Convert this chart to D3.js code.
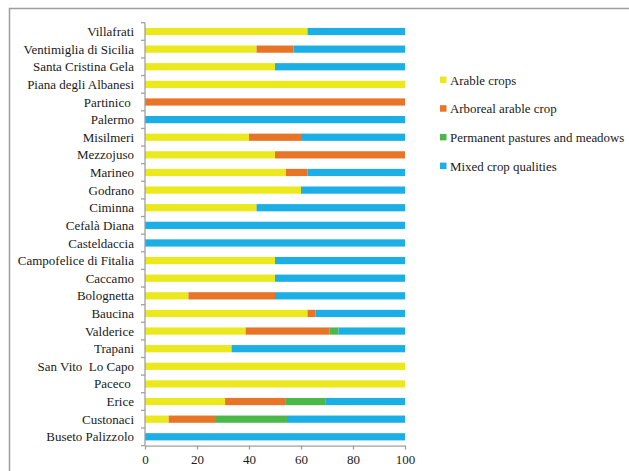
<!DOCTYPE html>
<html>
<head>
<meta charset="utf-8">
<script src="https://cdn.jsdelivr.net/npm/d3@7"></script>
<style>
  body { margin: 0; background: #fff; }
  svg { display: block; }
  text { font-family: "Liberation Serif", "Times New Roman", serif; fill: #1a1a1a; }
</style>
</head>
<body>
<svg id="chart" width="629" height="471"></svg>
<script>
// Municipalities, top to bottom
const municipalities = [
  "Villafrati", "Ventimiglia di Sicilia", "Santa Cristina Gela", "Piana degli Albanesi",
  "Partinico ", "Palermo", "Misilmeri", "Mezzojuso", "Marineo", "Godrano", "Ciminna",
  "Cefalà Diana", "Casteldaccia", "Campofelice di Fitalia", "Caccamo", "Bolognetta",
  "Baucina", "Valderice", "Trapani", "San Vito  Lo Capo", "Paceco ", "Erice",
  "Custonaci", "Buseto Palizzolo"
];

// Share (%) of each crop class per municipality
const arable =    [62.5, 42.9, 50, 100, 0, 0, 40, 50, 54.2, 60, 42.9, 0, 0, 50, 50, 16.7, 62.5, 38.7, 33.3, 100, 100, 30.8, 9.1, 0];
const arboreal =  [0, 14.2, 0, 0, 100, 0, 20, 50, 8.3, 0, 0, 0, 0, 0, 0, 33.3, 3.1, 32.2, 0, 0, 0, 23.1, 18.2, 0];
const pastures =  [0, 0, 0, 0, 0, 0, 0, 0, 0, 0, 0, 0, 0, 0, 0, 0, 0, 3.5, 0, 0, 0, 15.4, 27.3, 0];
const mixed =     [37.5, 42.9, 50, 0, 0, 100, 40, 0, 37.5, 40, 57.1, 100, 100, 50, 50, 50, 34.4, 25.6, 66.7, 0, 0, 30.7, 45.4, 100];

const seriesNames = ["Arable crops", "Arboreal arable crop", "Permanent pastures and meadows", "Mixed crop qualities"];
const seriesColors = ["#ebe81e", "#e87428", "#4cb84a", "#1cafe5"];
const xTicks = [0, 20, 40, 60, 80, 100];

const rows = municipalities.map((m, i) => ({
  name: m,
  [seriesNames[0]]: arable[i],
  [seriesNames[1]]: arboreal[i],
  [seriesNames[2]]: pastures[i],
  [seriesNames[3]]: mixed[i]
}));

const svg = d3.select("#chart");

// outer frame
svg.append("path")
  .attr("d", "M9.5,480 V8.5 H640")
  .attr("fill", "none")
  .attr("stroke", "#9d9d9d")
  .attr("stroke-width", 1.5);

const x = d3.scaleLinear().domain([0, 100]).range([145, 405]);
const y = d3.scaleBand().domain(municipalities).range([22.7, 445.6]).paddingInner(0.59).paddingOuter(0.295);

const stack = d3.stack().keys(seriesNames);
const layers = stack(rows);

svg.append("g").selectAll("g")
  .data(layers)
  .join("g")
  .attr("fill", (d, i) => seriesColors[i])
  .selectAll("rect")
  .data(d => d)
  .join("rect")
  .attr("x", d => x(d[0]))
  .attr("width", d => Math.max(0, x(d[1]) - x(d[0])))
  .attr("y", d => y(d.data.name))
  .attr("height", y.bandwidth());

// category axis (ticks between categories)
const yAxisG = svg.append("g");
yAxisG.append("line")
  .attr("x1", 145).attr("x2", 145)
  .attr("y1", 22.7).attr("y2", 445.6)
  .attr("stroke", "#a0a0a0").attr("stroke-width", 1.3);
const step = y.step();
yAxisG.selectAll("line.tick")
  .data(d3.range(municipalities.length + 1))
  .join("line")
  .attr("class", "tick")
  .attr("x1", 141).attr("x2", 145)
  .attr("y1", i => 22.7 + i * step)
  .attr("y2", i => 22.7 + i * step)
  .attr("stroke", "#a0a0a0").attr("stroke-width", 1.3);
yAxisG.selectAll("text")
  .data(municipalities)
  .join("text")
  .attr("x", 134)
  .attr("y", d => y(d) + y.bandwidth() / 2)
  .attr("dy", "0.35em")
  .attr("text-anchor", "end")
  .style("white-space", "pre")
  .attr("font-size", 13)
  .text(d => d);

// value axis
const xAxis = d3.axisBottom(x).tickValues(xTicks).tickSize(4).tickSizeOuter(0).tickPadding(5);
const xAxisG = svg.append("g").attr("transform", "translate(0,445.6)").call(xAxis);
xAxisG.select(".domain").attr("stroke", "#a0a0a0").attr("stroke-width", 1.3);
xAxisG.selectAll(".tick line").attr("stroke", "#a0a0a0").attr("stroke-width", 1.3);
xAxisG.selectAll(".tick text")
  .attr("font-family", "Liberation Serif, serif")
  .attr("font-size", 13)
  .attr("fill", "#1a1a1a");

// legend
const legend = svg.append("g").selectAll("g")
  .data(seriesNames)
  .join("g")
  .attr("transform", (d, i) => `translate(440,${80 + i * 28.7})`);
legend.append("rect")
  .attr("x", 0).attr("y", -3.5)
  .attr("width", 6.5).attr("height", 6.5)
  .attr("fill", (d, i) => seriesColors[i]);
legend.append("text")
  .attr("x", 10).attr("y", 0)
  .attr("dy", "0.35em")
  .attr("font-size", 12.9)
  .text(d => d);
</script>
</body>
</html>
